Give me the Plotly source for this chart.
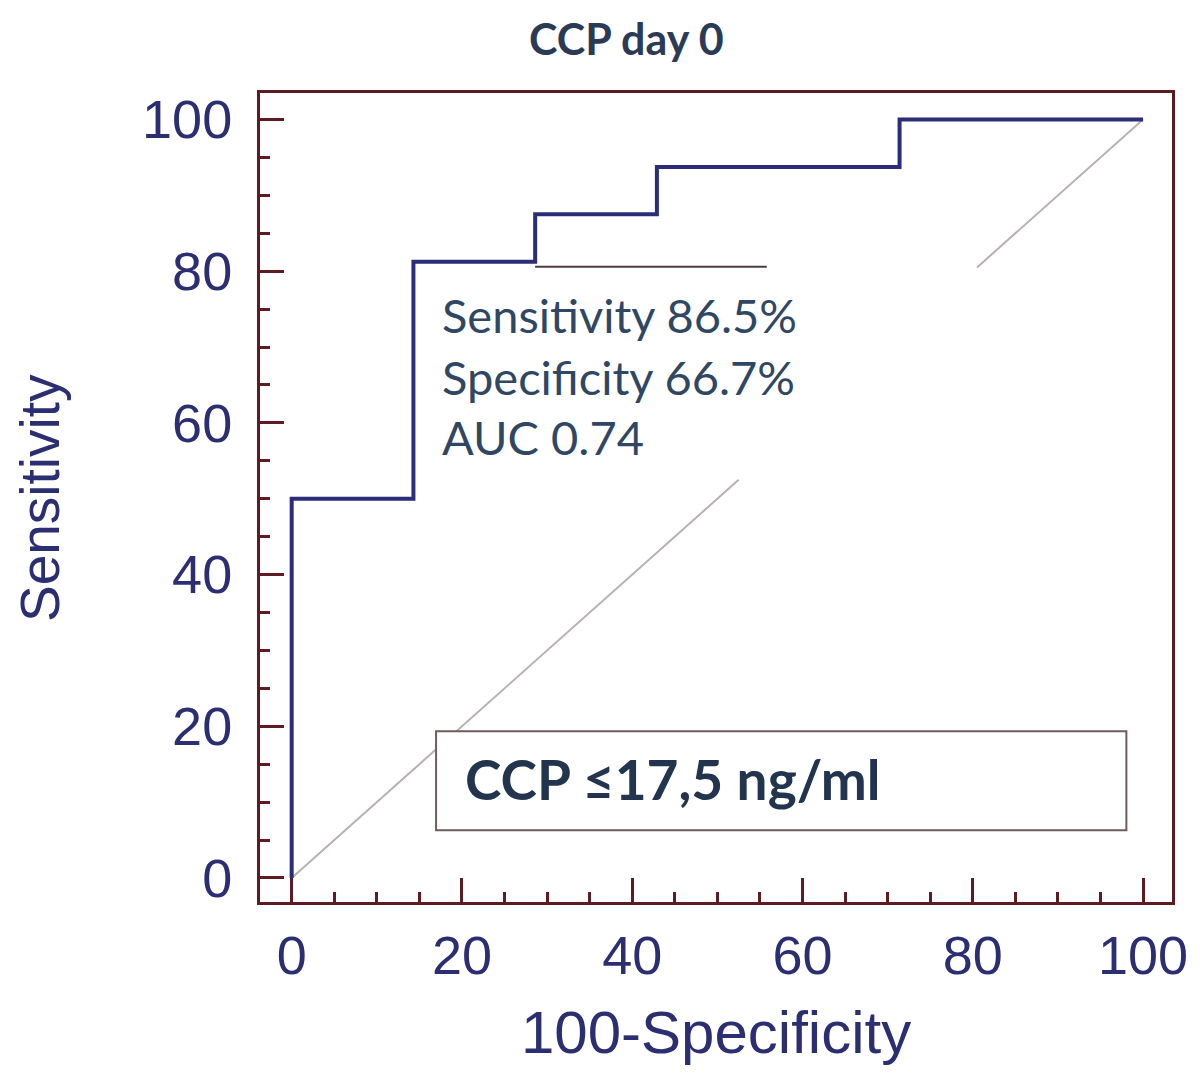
import plotly.graph_objects as go

# ROC curve steps (100-Specificity, Sensitivity)
fpr = [0, 14.3, 28.6, 42.9, 71.4, 100]
tpr = [0, 50, 81.25, 87.5, 93.75, 100]

# reference diagonal (partly hidden in original)
diag_x = [0, 52.5, None, 80.5, 100]
diag_y = [0, 52.5, None, 80.5, 100]

tick_vals = [0, 20, 40, 60, 80, 100]
tick_text = ["0", "20", "40", "60", "80", "100"]

stats_lines = ["Sensitivity 86.5%", "Specificity 66.7%", "AUC 0.74"]
cutoff_text = "CCP ≤17,5 ng/ml"
title_text = "CCP day 0"

MAROON = "#5e1c22"
NAVY = "#2b2d78"
TICKFONT = "#2b2e70"

fig = go.Figure()
fig.add_trace(go.Scatter(x=diag_x, y=diag_y, mode="lines",
                         line=dict(color="#b9b0b0", width=2),
                         hoverinfo="skip", showlegend=False))
fig.add_trace(go.Scatter(x=fpr, y=tpr, mode="lines", line_shape="vh",
                         line=dict(color=NAVY, width=4), showlegend=False))

axis_common = dict(
    showgrid=False, zeroline=False, showline=True, linecolor=MAROON,
    linewidth=3, mirror=True, ticks="inside", ticklen=24, tickwidth=3,
    tickcolor=MAROON, tickvals=tick_vals, ticktext=tick_text,
    tickfont=dict(family="Liberation Sans, Arial", size=54, color=TICKFONT),
    minor=dict(ticks="inside", dtick=5, ticklen=10, tickwidth=3, tickcolor=MAROON),
)

fig.update_xaxes(range=[-3.72, 103.4], ticklabelstandoff=4, **axis_common)
fig.update_yaxes(range=[-3.17, 103.5], ticklabelstandoff=14, **axis_common)

# leftover callout line
fig.add_shape(type="line", x0=28.6, x1=55.8, y0=80.6, y1=80.6,
              line=dict(color="#4a3c44", width=2))

# cutoff box
fig.add_shape(type="rect", x0=16.96, x1=98.04, y0=6.3, y1=19.36,
              line=dict(color="#6e5c5e", width=2), fillcolor="white", layer="above")

ann_font = dict(family="Lato", size=47, color="#2f4763")
for txt, yv in zip(stats_lines, [74.2, 66.1, 58.2]):
    fig.add_annotation(x=17.45, y=yv, xref="x", yref="y", text=txt,
                       showarrow=False, xanchor="left", yanchor="middle",
                       font=ann_font)

fig.add_annotation(x=20.1, y=13.1, xref="x", yref="y", text=cutoff_text,
                   showarrow=False, xanchor="left", yanchor="middle",
                   font=dict(family="Lato", size=55, color="#22344e", weight="bold"))

fig.add_annotation(x=0.402, y=(902 - 38) / 809, xref="paper", yref="paper",
                   text=title_text, showarrow=False, xanchor="center",
                   yanchor="middle",
                   font=dict(family="Lato", size=43, color="#2c3b55", weight="bold"))

fig.add_annotation(x=(716 - 260) / 912, y=(902 - 1032) / 809, xref="paper", yref="paper",
                   text="100-Specificity", showarrow=False, xanchor="center",
                   yanchor="middle",
                   font=dict(family="Liberation Sans, Arial", size=60, color=TICKFONT))

fig.add_annotation(x=(40 - 260) / 912, y=(902 - 498) / 809, xref="paper", yref="paper",
                   text="Sensitivity", showarrow=False, textangle=-90,
                   xanchor="center", yanchor="middle",
                   font=dict(family="Liberation Sans, Arial", size=55, color=TICKFONT))

# page body has an 8px default margin, so offsets are shifted by 8px
fig.update_layout(
    width=1200, height=1078,
    margin=dict(l=252, r=36, t=85, b=184),
    paper_bgcolor="white", plot_bgcolor="white",
    showlegend=False,
)

fig.write_html("out.html")
